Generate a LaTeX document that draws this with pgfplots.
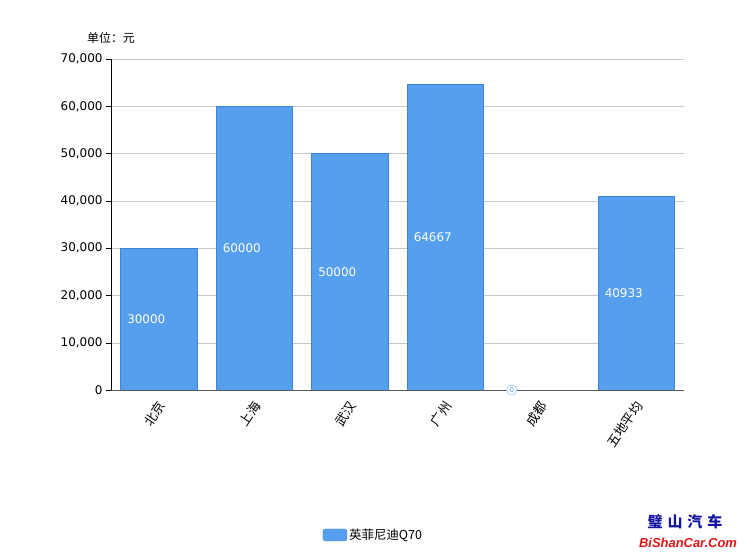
\documentclass[border=0pt]{standalone}
\usepackage{pgfplots}
\pgfplotsset{compat=1.18}
\usepackage{pgfplotstable}
\usepackage{fontspec}
\setmainfont{DejaVu Sans}
\newfontfamily\cjk{Noto Sans CJK SC}
\newfontfamily\wmfont{Liberation Sans}

\definecolor{barblue}{RGB}{85,159,238}
\definecolor{baredge}{RGB}{62,132,215}
\definecolor{gridgray}{RGB}{200,200,200}
\definecolor{axgray}{RGB}{90,90,90}

% price per city (yuan)
\pgfplotstableread{
x v lab
0 30000 30000
1 60000 60000
2 50000 50000
3 64667 64667
4 0 0
5 40933 40933
}\pricedata

\begin{document}
\begin{tikzpicture}
\path[use as bounding box] (0bp,0bp) rectangle (744bp,557bp);
\begin{axis}[
    at={(111bp,167bp)}, anchor=south west,
    scale only axis,
    width=573bp, height=331bp,
    xmin=-0.5, xmax=5.5,
    ymin=0, ymax=70000,
    axis lines*=left,
    x axis line style={draw=axgray, line width=1pt},
    y axis line style={draw=black},
    xtick={0,1,2,3,4,5},
    xticklabels={北京,上海,武汉,广州,成都,五地平均},
    xticklabel style={font=\cjk\fontsize{13}{15}\selectfont,
        xshift=5bp, yshift=-5bp, rotate=56, anchor=east},
    x tick style={draw=none},
    ytick={0,10000,20000,30000,40000,50000,60000,70000},
    scaled y ticks=false,
    /pgf/number format/1000 sep={,},
    /pgf/number format/assume math mode=true,
    yticklabel style={font=\fontsize{12}{14}\selectfont},
    tick align=outside,
    major tick length=5bp,
    ytick pos=left,
    y tick style={draw=black},
    ymajorgrids,
    grid style={draw=gridgray},
    legend style={at={(0.364,-0.438)}, anchor=west, draw=none,
        font=\cjk\fontsize{12.5}{14}\selectfont},
]
\addplot[ybar, bar width=0.8, bar shift=0pt, fill=barblue, draw=baredge,
    legend image code/.code={\draw[fill=barblue, draw=baredge, rounded corners=2.5bp] (0bp,-6bp) rectangle (24bp,6bp);}]
    table[x=x, y=v] {\pricedata};
\addlegendentry{英菲尼迪Q70}

% value labels inside the bars, halfway up
\addplot[forget plot, only marks, mark=none,
    x filter/.expression={x==4 ? nan : x},
    nodes near coords, point meta=explicit symbolic,
    every node near coord/.style={anchor=west, xshift=-35bp, text=white,
        font=\fontsize{12}{14}\selectfont}]
    table[x=x, y expr=\thisrow{v}/2, meta=lab] {\pricedata};

% the zero label of 成都
\addplot[forget plot, only marks, mark=none,
    nodes near coords, point meta=explicit symbolic,
    every node near coord/.style={circle, anchor=center, draw=barblue!80,
        fill=white, inner sep=1.2pt, minimum size=9bp, text=barblue,
        font=\fontsize{7}{8}\selectfont, xshift=-29bp}]
    coordinates {(4,0) [0]};
\end{axis}

\node[font=\cjk\fontsize{12}{14}\selectfont] at (111bp,519bp) {单位：元};
\node[font=\cjk\bfseries\fontsize{15}{17}\selectfont, text={rgb,255:red,20;green,20;blue,160}] at (685bp,35bp) {璧\,\,山\,\,汽\,\,车};
\node[font=\wmfont\bfseries\itshape\fontsize{13}{15}\selectfont, text={rgb,255:red,220;green,20;blue,20}] at (688bp,14bp) {BiShanCar.Com};
\end{tikzpicture}
\end{document}
